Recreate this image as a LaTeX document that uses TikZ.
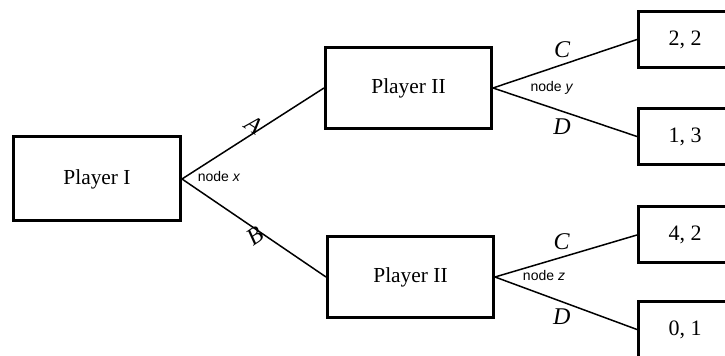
\documentclass[tikz,border=0pt]{standalone}
\usepackage{fontspec}
\setmainfont{Liberation Serif}
\setsansfont{Liberation Sans}

\begin{document}
\begin{tikzpicture}[x=0.5pt,y=0.5pt,yscale=-1,xscale=1,
  player/.style={draw, line width=1.5pt, minimum width=83.5pt, minimum height=42pt, inner sep=0pt, font=\fontsize{10.7}{12}\selectfont},
  payoff/.style={draw, line width=1.5pt, minimum width=46.5pt, minimum height=28pt, inner sep=0pt, font=\fontsize{11}{13}\selectfont},
  branch/.style={line width=0.75pt},
  move/.style={font=\fontsize{12}{14}\selectfont\itshape},
  tag/.style={font=\fontsize{7}{8}\selectfont\sffamily}]
\useasboundingbox (0,0) rectangle (725,356);
\clip (0,0) rectangle (725,356);

%Shape: Rectangle [Player I]
\node[player] (pI) at (97,179) {Player I};
%Shape: Rectangle [Player II, top]
\node[player, minimum width=83pt, minimum height=40.5pt] (pIIy) at (408.5,88) {Player II};
%Shape: Rectangle [Player II, bottom]
\node[player, minimum width=83pt, minimum height=40.5pt] (pIIz) at (410.5,277) {Player II};

%Shape: Rectangle [payoffs]
\node[payoff] (oAC) at (685,39.5) {2, 2};
\node[payoff] (oAD) at (685,136.5) {1, 3};
\node[payoff] (oBC) at (685,235) {4, 2};
\node[payoff] (oBD) at (685,329.5) {0, 1};

%Straight Lines
\draw[branch] (pI.east) -- node[move, sloped, above, pos=0.45] {A} (pIIy.west);
\draw[branch] (pI.east) -- node[move, sloped, below, pos=0.45] {B} (pIIz.west);
\draw[branch] (pIIy.east) -- node[move, above, pos=0.48] {C} (oAC.west);
\draw[branch] (pIIy.east) -- node[move, below, pos=0.48] {D} (oAD.west);
\draw[branch] (pIIz.east) -- node[move, above, pos=0.47] {C} (oBC.west);
\draw[branch] (pIIz.east) -- node[move, below, pos=0.47] {D} (oBD.west);

% Text Node
\node[tag] (nx) at (219,177) {node \textit{x}};
% Text Node
\node[tag] (ny) at (552,88) {node \textit{y}};
% Text Node
\node[tag] (nz) at (544,276) {node \textit{z}};

\end{tikzpicture}
\end{document}
